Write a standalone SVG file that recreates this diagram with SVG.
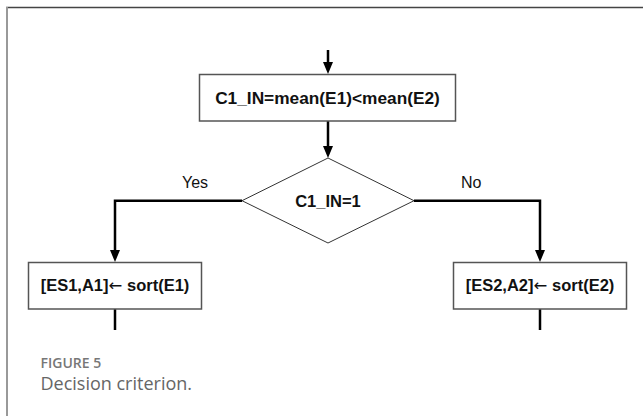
<svg xmlns="http://www.w3.org/2000/svg" width="643" height="416" viewBox="0 0 643 416">
<defs>
<marker id="ah" markerUnits="userSpaceOnUse" markerWidth="12" markerHeight="12" viewBox="0 0 12 12" refX="6" refY="6" orient="auto">
<path d="M0,1 L12,6 L0,11 z" fill="#000"/>
</marker>
<style>
.box{fill:#fff;stroke:#555;stroke-width:1.5}
.dia{fill:#fff;stroke:#333;stroke-width:1}
.lbl{font-family:"Liberation Sans",Arial,sans-serif;font-weight:bold;font-size:16.5px;fill:#111;text-anchor:middle}
.big{font-size:17.3px}
.arr{font-family:"DejaVu Sans",sans-serif;font-weight:normal}
.yn{font-family:"Liberation Sans",Arial,sans-serif;font-size:16px;fill:#111}
.con{fill:none;stroke:#000;stroke-width:2.5}
.cap1{font-family:"Open Sans",sans-serif;font-weight:600;font-size:14px;fill:#777}
.cap2{font-family:"Open Sans",sans-serif;font-size:18px;fill:#666}
</style>
</defs>
<rect width="643" height="416" fill="#fff"/>
<line x1="6" y1="7.5" x2="643" y2="7.5" stroke="#444" stroke-width="1.5"/>
<line x1="7" y1="7" x2="7" y2="416" stroke="#999" stroke-width="2"/>
<g id="connectors">
<path class="con" d="M328,50 V68" marker-end="url(#ah)"/>
<path class="con" d="M328,121 V152" marker-end="url(#ah)"/>
<path class="con" d="M242,200.7 H115 V256" marker-end="url(#ah)"/>
<path class="con" d="M414,200.7 H540 V256" marker-end="url(#ah)"/>
<path class="con" d="M115,309 V330"/>
<path class="con" d="M540,309 V330"/>
</g>
<g id="calc">
<rect class="box" x="199.5" y="74.5" width="256" height="46.5"/>
<text class="lbl big" x="327.5" y="103.5">C1_IN=mean(E1)&lt;mean(E2)</text>
</g>
<g id="decision">
<polygon class="dia" points="328,158 414,200.7 328,243 242,200.7"/>
<text class="lbl" x="328" y="206.5">C1_IN=1</text>
</g>
<g id="yes-label"><text class="yn" x="182" y="187.5">Yes</text></g>
<g id="no-label"><text class="yn" x="461" y="187.5">No</text></g>
<g id="sort1">
<rect class="box" x="28.5" y="262.5" width="173" height="46.5"/>
<text class="lbl" x="115" y="291">[ES1,A1]<tspan class="arr">←</tspan> sort(E1)</text>
</g>
<g id="sort2">
<rect class="box" x="453.5" y="262.5" width="173" height="46.5"/>
<text class="lbl" x="540" y="291">[ES2,A2]<tspan class="arr">←</tspan> sort(E2)</text>
</g>
<text class="cap1" x="40.5" y="368">FIGURE 5</text>
<text class="cap2" x="40.5" y="390">Decision criterion.</text>
</svg>
